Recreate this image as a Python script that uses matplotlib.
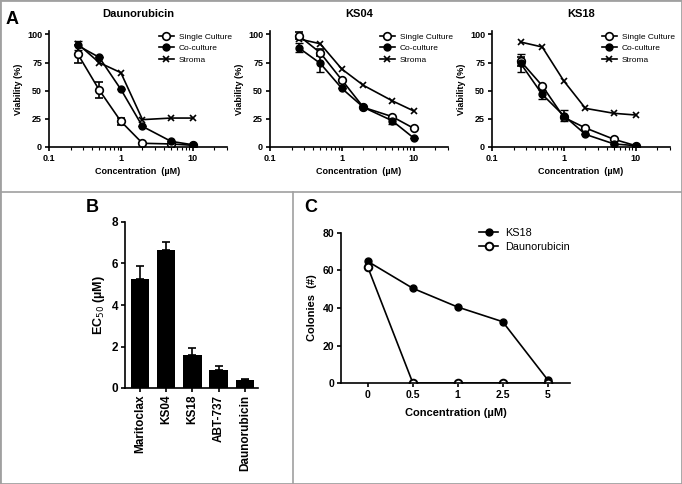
import numpy as np
import matplotlib
matplotlib.use('Agg')
import matplotlib.pyplot as plt
from matplotlib.lines import Line2D

plt.rcParams['font.family'] = ['Liberation Sans', 'DejaVu Sans']

# Panel A: viability curves
conc = [0.25, 0.5, 1, 2, 5, 10]
a_titles = ['Daunorubicin', 'KS04', 'KS18']
single = [[82.8, 50.6, 22.8, 3.3, 2.7, 1.5],
          [99.0, 83.7, 59.5, 35.2, 27.0, 16.6],
          [76.3, 54.4, 26.3, 16.9, 6.8, 1.2]]
single_err = [[8, 7, 3, 0, 0, 0],
              [3, 3, 0, 0, 0, 0],
              [4, 0, 0, 0, 0, 0]]
coculture = [[90.2, 79.6, 51.2, 18.3, 5.0, 2.0],
             [88.2, 74.3, 52.0, 35.2, 23.4, 8.0],
             [74.3, 46.7, 27.8, 11.2, 2.7, 1.2]]
coculture_err = [[4, 0, 0, 0, 0, 0],
                 [4, 8, 0, 0, 3, 0],
                 [8, 4, 5, 0, 0, 0]]
stroma = [[91.7, 74.9, 66.0, 24.3, 25.7, 25.7],
          [96.0, 91.7, 69.2, 54.7, 41.1, 32.0],
          [93.2, 88.8, 58.6, 34.3, 29.9, 28.4]]

# Panel B: EC50
drugs = ['Maritoclax', 'KS04', 'KS18', 'ABT-737', 'Daunorubicin']
ec50 = [5.24, 6.66, 1.61, 0.87, 0.37]
ec50_err = [0.65, 0.39, 0.31, 0.21, 0.07]

# Panel C: colonies
c_labels = ['0', '0.5', '1', '2.5', '5']
ks18_col = [64.8, 50.5, 40.5, 32.7, 1.8]
dauno_col = [61.6, 0, 0, 0, 0]

W, H = 682, 484
fig = plt.figure(figsize=(W / 100, H / 100), dpi=100)


def box(l, t, r, b):
    return [l / W, 1 - b / H, (r - l) / W, (b - t) / H]


def style(ax, fs):
    for s in ['top', 'right']:
        ax.spines[s].set_visible(False)
    for s in ['left', 'bottom']:
        ax.spines[s].set_linewidth(1.2)
    ax.tick_params(width=1.2, length=3, labelsize=fs, pad=2)
    for lab in ax.get_xticklabels() + ax.get_yticklabels():
        lab.set_fontweight('bold')


a_lefts = [49, 270, 492]
for i in range(3):
    l = a_lefts[i]
    ax = fig.add_axes(box(l, 31, l + 178, 147))
    ax.set_xscale('log')
    ax.errorbar(conc, single[i], yerr=single_err[i], color='black', lw=1.2,
                marker='o', mfc='white', mec='black', mew=1.2, ms=5.5,
                capsize=3, elinewidth=1.2)
    ax.errorbar(conc, coculture[i], yerr=coculture_err[i], color='black', lw=1.2,
                marker='o', ms=5, capsize=3, elinewidth=1.2)
    ax.plot(conc, stroma[i], color='black', lw=1.2, marker='x', ms=4.5, mew=1.2)
    ax.set_xlim(0.1, 30)
    ax.set_ylim(0, 103)
    ax.set_yticks([0, 25, 50, 75, 100])
    ax.set_xticks([0.1, 1, 10])
    ax.set_xticklabels(['0.1', '1', '10'])
    ax.tick_params(which='minor', length=1.8, width=0.8)
    style(ax, 6.5)
    ax.set_xlabel('Concentration  (\u00b5M)', fontsize=6.5, fontweight='bold', labelpad=3)
    ax.set_ylabel('Viability (%)', fontsize=6.5, fontweight='bold', labelpad=3)
    ax.set_title(a_titles[i], fontsize=8, fontweight='bold', pad=10)
    # legend proxies without the error bar caps
    handles = [Line2D([], [], color='black', lw=1.2, marker='o', mfc='white', mew=1.2, ms=5.5),
               Line2D([], [], color='black', lw=1.2, marker='o', ms=5),
               Line2D([], [], color='black', lw=1.2, marker='x', ms=4.5, mew=1.2)]
    ax.legend(handles, ['Single Culture', 'Co-culture', 'Stroma'],
              loc='upper right', bbox_to_anchor=(1.07, 1.05), frameon=False,
              fontsize=6, handlelength=1.8, handletextpad=0.6, labelspacing=0.45)

fig.text(6 / W, 1 - 20 / H, 'A', fontsize=13, fontweight='bold', va='center')

# Panel B
axb = fig.add_axes(box(125, 222, 258, 388))
xb = np.arange(len(drugs))
axb.bar(xb, ec50, width=0.7, color='black')
axb.errorbar(xb, ec50, yerr=[np.zeros(len(ec50)), ec50_err], fmt='none',
             ecolor='black', capsize=3, elinewidth=1.2, capthick=1.2)
axb.set_xlim(-0.57, 4.5)
axb.set_ylim(0, 8)
axb.set_yticks([0, 2, 4, 6, 8])
axb.set_xticks(xb)
axb.set_xticklabels(drugs, rotation=90)
style(axb, 8.5)
axb.set_ylabel('EC$_{50}$ (\u00b5M)', fontsize=9, fontweight='bold', labelpad=3)
fig.text(86 / W, 1 - 208 / H, 'B', fontsize=13, fontweight='bold', va='center')

# Panel C
axc = fig.add_axes(box(341, 233, 570, 383))
xc = np.arange(len(c_labels))
axc.plot(xc, ks18_col, color='black', lw=1.2, marker='o', ms=5, label='KS18')
axc.plot(xc, dauno_col, color='black', lw=1.2, marker='o', mfc='white',
         mew=1.4, ms=5.5, label='Daunorubicin')
axc.set_xlim(-0.6, 4.5)
axc.set_ylim(0, 80)
axc.set_yticks([0, 20, 40, 60, 80])
axc.set_xticks(xc)
axc.set_xticklabels(c_labels)
style(axc, 7.5)
axc.set_xlabel('Concentration (\u00b5M)', fontsize=8, fontweight='bold', labelpad=6)
axc.set_ylabel('Colonies  (#)', fontsize=8, fontweight='bold', labelpad=4)
axc.legend(loc='upper left', bbox_to_anchor=(0.56, 1.1), frameon=False,
           fontsize=7.8, handlelength=1.8, handletextpad=0.6, labelspacing=0.35)
fig.text(304 / W, 1 - 208 / H, 'C', fontsize=13, fontweight='bold', va='center')

# panel frames
gray = '#a0a0a0'
fig.add_artist(Line2D([0, 1], [1 - 192 / H, 1 - 192 / H], color=gray, lw=1.2))
fig.add_artist(Line2D([293 / W, 293 / W], [0, 1 - 192 / H], color=gray, lw=1.2))
fig.add_artist(Line2D([0, 1, 1, 0, 0], [0, 0, 1, 1, 0], color=gray, lw=2))

fig.savefig('out.png', dpi=100)
